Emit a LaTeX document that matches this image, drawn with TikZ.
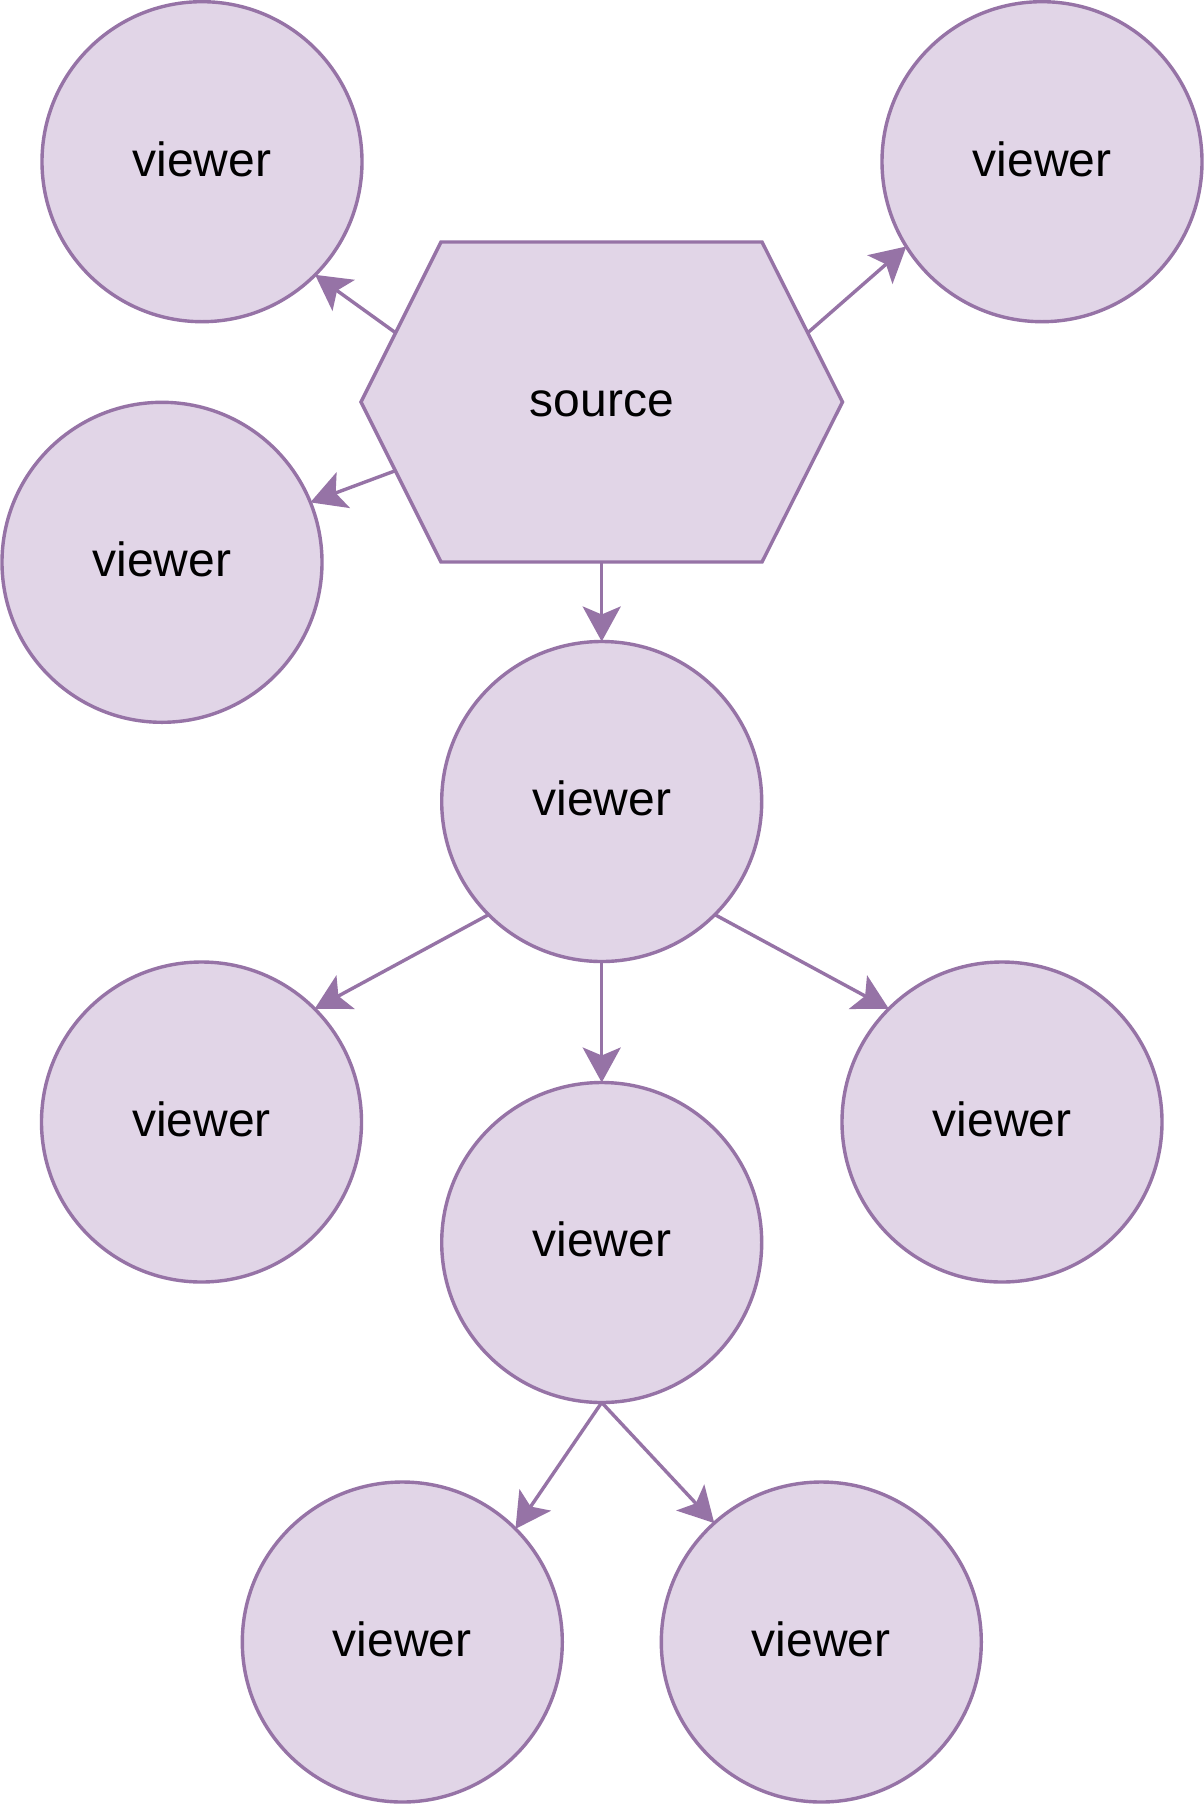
\documentclass[tikz,border=0pt]{standalone}
\usepackage{fontspec}
\setmainfont{Liberation Sans}
\usetikzlibrary{arrows.meta}
\definecolor{vfill}{HTML}{E1D5E7}
\definecolor{vdraw}{HTML}{9673A6}
\tikzset{
  viewernode/.style={circle, draw=vdraw, fill=vfill, line width=1.7pt,
    minimum size=160pt, inner sep=0pt, outer sep=0pt,
    font=\fontsize{24}{28}\selectfont, text height=14.3pt, text depth=0pt},
  labelnode/.style={inner sep=0pt, font=\fontsize{24}{28}\selectfont,
    text height=14.3pt, text depth=0pt},
  hexshape/.style={draw=vdraw, fill=vfill, line width=1.7pt, line join=miter},
  arr/.style={draw=vdraw, line width=1.7pt,
    -{Stealth[length=17.5pt, width=19pt, inset=4pt]}}
}
\begin{document}
\begin{tikzpicture}[x=0.5pt, y=-0.5pt]
\useasboundingbox[fill=white] (0,0) rectangle (1204,1804);
% hexagon "source"
\coordinate (h1) at (441,242);
\coordinate (h2) at (762,242);
\coordinate (h3) at (842.5,402);
\coordinate (h4) at (762,562);
\coordinate (h5) at (441,562);
\coordinate (h6) at (361,402);
\draw[hexshape] (h1) -- (h2) -- (h3) -- (h4) -- (h5) -- (h6) -- cycle;
\node[labelnode] (src) at (601.7,402) {source};
\coordinate (hL1) at (395.5,332.7);
\coordinate (hR1) at (807.8,332.7);
\coordinate (hL2) at (395.4,470.7);
\coordinate (hB) at (601.7,562);
% viewers
\node[viewernode] (tl) at (202,161.7) {viewer};
\node[viewernode] (tr) at (1042,161.7) {viewer};
\node[viewernode] (lc) at (162,562.3) {viewer};
\node[viewernode] (c) at (601.7,801.5) {viewer};
\node[viewernode] (rl) at (201.5,1122) {viewer};
\node[viewernode] (rr) at (1002,1122) {viewer};
\node[viewernode] (m) at (601.7,1242.5) {viewer};
\node[viewernode] (bl) at (402.3,1642) {viewer};
\node[viewernode] (br) at (821.3,1642) {viewer};
% connectors
\draw[arr] (hL1) -- (tl.-45);
\draw[arr] (hR1) -- (tr.212);
\draw[arr] (hL2) -- (lc.22);
\draw[arr] (hB) -- (c.north);
\draw[arr] (c.225) -- (rl.45);
\draw[arr] (c.-45) -- (rr.135);
\draw[arr] (c.south) -- (m.north);
\draw[arr] (m.south) -- (bl.45);
\draw[arr] (m.south) -- (br.132);
\end{tikzpicture}
\end{document}
